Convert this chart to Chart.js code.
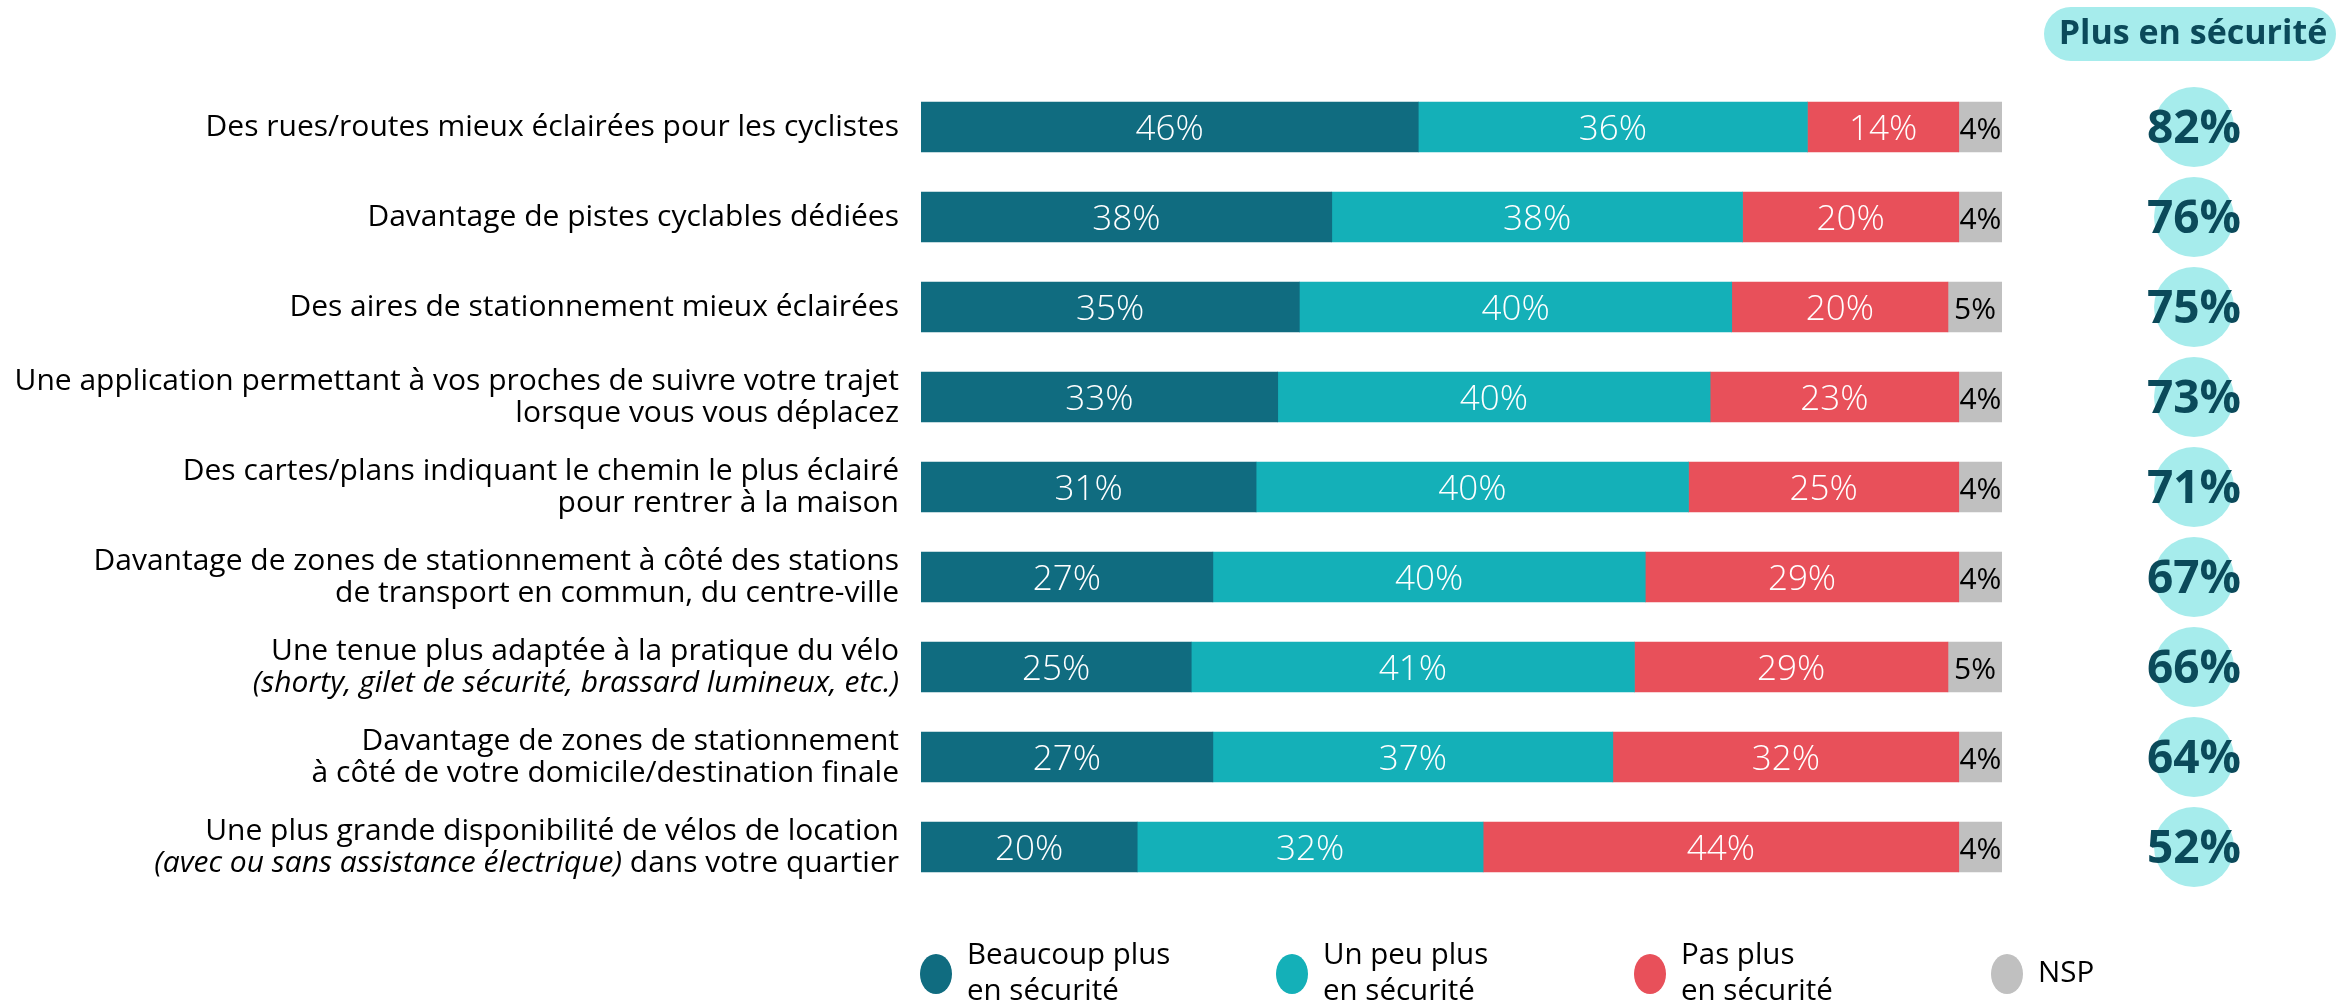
<!DOCTYPE html>
<html lang="fr">
<head>
<meta charset="utf-8">
<title>Plus en sécurité</title>
<script src="https://cdn.jsdelivr.net/npm/chart.js@4.4.1/dist/chart.umd.min.js"></script>
<style>
  html, body { margin: 0; padding: 0; background: #ffffff; }
  #wrap { width: 2336px; height: 1008px; position: relative; }
</style>
</head>
<body>
<div id="wrap"><canvas id="barChart" width="2336" height="1008"></canvas></div>
<script>
// Row labels (text between underscores is drawn in italics)
const categories = [
    ['Des rues/routes mieux éclairées pour les cyclistes'],
    ['Davantage de pistes cyclables dédiées'],
    ['Des aires de stationnement mieux éclairées'],
    ['Une application permettant à vos proches de suivre votre trajet', 'lorsque vous vous déplacez'],
    ['Des cartes/plans indiquant le chemin le plus éclairé', 'pour rentrer à la maison'],
    ['Davantage de zones de stationnement à côté des stations', 'de transport en commun, du centre-ville'],
    ['Une tenue plus adaptée à la pratique du vélo', '_(shorty, gilet de sécurité, brassard lumineux, etc.)_'],
    ['Davantage de zones de stationnement', 'à côté de votre domicile/destination finale'],
    ['Une plus grande disponibilité de vélos de location', '_(avec ou sans assistance électrique)_ dans votre quartier']
];

// Answers in %
const beaucoupPlus = [46, 38, 35, 33, 31, 27, 25, 27, 20];
const unPeuPlus = [36, 38, 40, 40, 40, 40, 41, 37, 32];
const pasPlus = [14, 20, 20, 23, 25, 29, 29, 32, 44];
const nsp = [4, 4, 5, 4, 4, 4, 5, 4, 4];

// Total "Plus en sécurité"
const totalPlus = [82, 76, 75, 73, 71, 67, 66, 64, 52];

const seriesNames = [['Beaucoup plus', 'en sécurité'], ['Un peu plus', 'en sécurité'], ['Pas plus', 'en sécurité'], ['NSP']];
const seriesColors = ['#106c80', '#14b0b8', '#e8505a', '#c0c0c0'];
const labelColors = ['#ffffff', '#ffffff', '#ffffff', '#000000'];

const FONT = '"Open Sans", "Noto Sans", sans-serif';

// Category labels on the left, with italic parts
const rowLabels = {
    id: 'rowLabels',
    afterDraw(chart) {
        const ctx = chart.ctx;
        const yScale = chart.scales.y;
        const right = chart.chartArea.left - 22;
        const lineHeight = 32;
        ctx.save();
        ctx.fillStyle = '#000000';
        ctx.textBaseline = 'middle';
        categories.forEach((lines, i) => {
            const yc = yScale.getPixelForValue(i);
            const y0 = yc - (lines.length - 1) * lineHeight / 2;
            lines.forEach((line, j) => {
                const parts = line.split('_');
                const fonts = parts.map((p, k) => (k % 2 ? 'italic 400 ' : '400 ') + '30px ' + FONT);
                let width = 0;
                parts.forEach((p, k) => { ctx.font = fonts[k]; width += ctx.measureText(p).width; });
                let x = right - width;
                ctx.textAlign = 'left';
                parts.forEach((p, k) => {
                    ctx.font = fonts[k];
                    ctx.fillText(p, x, y0 + j * lineHeight);
                    x += ctx.measureText(p).width;
                });
            });
        });
        ctx.restore();
    }
};

// Value labels inside the bars
const barValues = {
    id: 'barValues',
    afterDatasetsDraw(chart) {
        const ctx = chart.ctx;
        ctx.save();
        ctx.textAlign = 'center';
        ctx.textBaseline = 'middle';
        chart.data.datasets.forEach((ds, d) => {
            const meta = chart.getDatasetMeta(d);
            ctx.fillStyle = labelColors[d];
            ctx.font = (d === 3 ? '400 30px ' : '300 35px ') + FONT;
            meta.data.forEach((bar, i) => {
                const xc = (bar.x + bar.base) / 2;
                ctx.fillText(ds.data[i] + '%', xc, bar.y + 3);
            });
        });
        ctx.restore();
    }
};

// Right column with totals and the header pill
const totalsColumn = {
    id: 'totalsColumn',
    afterDraw(chart) {
        const ctx = chart.ctx;
        const yScale = chart.scales.y;
        const cx = 2194;
        ctx.save();
        // header pill
        ctx.fillStyle = '#a6ecec';
        ctx.beginPath();
        ctx.roundRect(2044, 7, 292, 54, 27);
        ctx.fill();
        ctx.fillStyle = '#0b4a5a';
        ctx.font = 'bold 34px ' + FONT;
        ctx.textAlign = 'center';
        ctx.textBaseline = 'middle';
        ctx.fillText('Plus en sécurité', 2193, 34);
        // circles
        totalPlus.forEach((v, i) => {
            const y = yScale.getPixelForValue(i);
            ctx.fillStyle = '#a6ecec';
            ctx.beginPath();
            ctx.arc(cx, y, 40, 0, Math.PI * 2);
            ctx.fill();
            ctx.fillStyle = '#0b4a5a';
            ctx.font = 'bold 46px ' + FONT;
            ctx.fillText(v + '%', cx, y + 3);
        });
        ctx.restore();
    }
};

// Legend at the bottom
const bottomLegend = {
    id: 'bottomLegend',
    afterDraw(chart) {
        const ctx = chart.ctx;
        const xs = [936, 1292, 1650, 2007];
        const yc = 974;
        ctx.save();
        ctx.textBaseline = 'middle';
        ctx.textAlign = 'left';
        ctx.font = '400 29.5px ' + FONT;
        seriesNames.forEach((lines, i) => {
            ctx.fillStyle = seriesColors[i];
            ctx.beginPath();
            ctx.ellipse(xs[i], yc, 16, 20, 0, 0, Math.PI * 2);
            ctx.fill();
            ctx.fillStyle = '#000000';
            const y0 = yc - (lines.length - 1) * 36 / 2;
            lines.forEach((t, j) => ctx.fillText(t, xs[i] + 31, y0 + j * 36));
        });
        ctx.restore();
    }
};

const datasets = [beaucoupPlus, unPeuPlus, pasPlus, nsp].map((data, i) => ({
    label: seriesNames[i].join(' '),
    data: data,
    backgroundColor: seriesColors[i],
    borderWidth: 0,
    barThickness: 50
}));

const ctx = document.getElementById('barChart').getContext('2d');
const barChart = new Chart(ctx, {
    type: 'bar',
    data: { labels: categories.map(l => l.join(' ')), datasets: datasets },
    options: {
        indexAxis: 'y',
        responsive: false,
        animation: false,
        layout: { padding: { left: 921, right: 334, top: 82, bottom: 116 } },
        scales: {
            x: { stacked: true, min: 0, max: 100, display: false },
            y: { stacked: true, display: false }
        },
        plugins: {
            legend: { display: false },
            tooltip: { enabled: false }
        }
    },
    plugins: [rowLabels, barValues, totalsColumn, bottomLegend]
});
</script>
</body>
</html>
